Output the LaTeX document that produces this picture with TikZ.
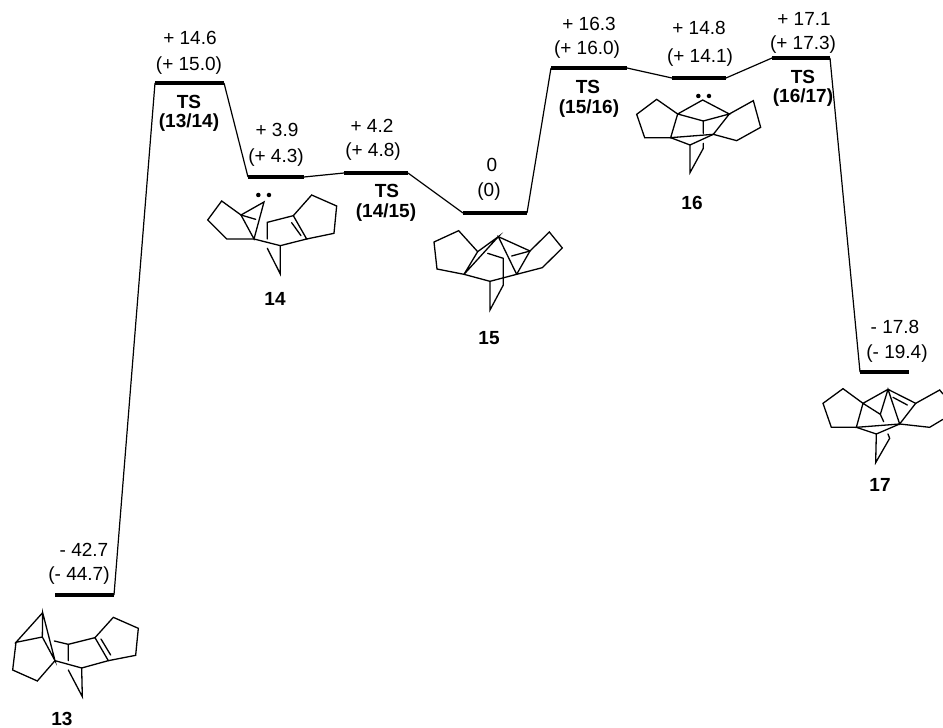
\documentclass[tikz,border=0pt]{standalone}
\usepackage{fontspec}
\setmainfont{Liberation Sans}
\tikzset{
  bar/.style={line width=4pt},
  link/.style={line width=1.2pt},
  bond/.style={line width=1.3pt,line join=miter,line cap=round},
  val/.style={inner sep=0pt,font=\fontsize{19}{22}\selectfont},
  ts/.style={inner sep=0pt,font=\fontsize{19}{22}\selectfont\bfseries},
  molname/.style={inner sep=0pt,font=\fontsize{19}{22}\selectfont\bfseries},
  mol/.style={x=0.3333pt,y=-0.3333pt},
  pair/.style={circle,fill=black,inner sep=0pt,minimum size=4.5pt}
}
\begin{document}
\begin{tikzpicture}[x=1pt,y=-1pt]
\useasboundingbox (0,0) rectangle (943,728);
% energy levels
\coordinate (L13a) at (55,595);  \coordinate (L13b) at (114,595);
\coordinate (Ta) at (155,83);    \coordinate (Tb) at (224,83);
\coordinate (L14a) at (248,177); \coordinate (L14b) at (304,177);
\coordinate (Ua) at (344,173);   \coordinate (Ub) at (408,173);
\coordinate (L15a) at (463,213); \coordinate (L15b) at (527,213);
\coordinate (Va) at (551,68);    \coordinate (Vb) at (627,68);
\coordinate (L16a) at (672,78);  \coordinate (L16b) at (726,78);
\coordinate (Wa) at (772,58);    \coordinate (Wb) at (830,58);
\coordinate (L17a) at (860,372); \coordinate (L17b) at (909,372);
\foreach \p/\q in {L13/L13,T/T,L14/L14,U/U,L15/L15,V/V,L16/L16,W/W,L17/L17}
  \draw[bar] (\p a) -- (\q b);
\draw[link] (L13b)--(Ta) (Tb)--(L14a) (L14b)--(Ua) (Ub)--(L15a) (L15b)--(Va) (Vb)--(L16a) (L16b)--(Wa) (Wb)--(L17a);
% labels
\node[val] (e13a) at (84,550) {- 42.7};  \node[val] (e13b) at (79,576) {(- 44.7)};
\node[val] (et1a) at (190,38) {+ 14.6};  \node[val] (et1b) at (189,66) {(+ 15.0)};
\node[ts] (t1a) at (189,102) {TS};       \node[ts] (t1b) at (189,123) {(13/14)};
\node[val] (e14a) at (277,130) {+ 3.9};  \node[val] (e14b) at (276,158) {(+ 4.3)};
\node[val] (et2a) at (372,126) {+ 4.2};  \node[val] (et2b) at (373,152) {(+ 4.8)};
\node[ts] (t2a) at (387,191) {TS};       \node[ts] (t2b) at (386,213) {(14/15)};
\node[val] (e15a) at (492,165) {0};      \node[val] (e15b) at (489,192) {(0)};
\node[val] (et3a) at (589,24) {+ 16.3};  \node[val] (et3b) at (587,50) {(+ 16.0)};
\node[ts] (t3a) at (588,87) {TS};        \node[ts] (t3b) at (589,109) {(15/16)};
\node[val] (e16a) at (699,28) {+ 14.8};  \node[val] (e16b) at (700,58) {(+ 14.1)};
\node[val] (et4a) at (804,19) {+ 17.1};  \node[val] (et4b) at (803,45) {(+ 17.3)};
\node[ts] (t4a) at (803,77) {TS};        \node[ts] (t4b) at (803,98) {(16/17)};
\node[val] (e17a) at (895,327) {- 17.8}; \node[val] (e17b) at (897,354) {(- 19.4)};
\node[molname] (n13) at (62,718.5) {13};
\node[molname] (n14) at (275,299) {14};
\node[molname] (n15) at (489,338) {15};
\node[molname] (n16) at (692,203) {16};
\node[molname] (n17) at (880,485) {17};
% molecule 13
\begin{scope}[mol,xshift=0pt,yshift=-590pt]
\draw[bond] (128,68)--(48,157)--(127,141)--(128,68)--(165,212)--(127,141);
\draw[bond] (48,157)--(38,240)--(112,273)--(165,212)--(245,234)--(325,212)--(285,143)--(205,163)--(163,153);
\draw[bond] (205,163)--(205,212) (205,240)--(247,320)--(245,234);
\draw[bond] (285,143)--(340,82)--(415,115)--(407,196)--(325,212) (303,147)--(332,195);
\end{scope}
% molecule 14
\begin{scope}[mol,xshift=190pt,yshift=-170pt]
\node[pair] (p14a) at (205,75) {}; \node[pair] (p14b) at (237,75) {};
\draw[bond] (222,96)--(153,135)--(192,207)--cycle;
\draw[bond] (153,135)--(95,93)--(53,150)--(110,207)--(192,207)--(271,227)--(350,207)--(310,137)--(232,157)--(232,207);
\draw[bond] (232,235)--(271,312)--(271,227) (153,135)--(197,148);
\draw[bond] (310,137)--(365,75)--(440,108)--(432,190)--(350,207) (305,158)--(333,197);
\end{scope}
% molecule 15
\begin{scope}[mol,xshift=420pt,yshift=-210pt]
\draw[bond] (235,80)--(173,125)--(132,193)--cycle;
\draw[bond] (173,125)--(116,62)--(42,96)--(51,177)--(132,193)--(210,214)--(290,193)--(330,123)--(235,80)--(290,193);
\draw[bond] (330,123)--(388,66)--(427,114)--(367,173)--(290,193);
\draw[bond] (210,214)--(210,300)--(250,225)--(250,145)--(203,130) (275,138)--(330,123);
\end{scope}
% molecule 16
\begin{scope}[mol,xshift=630pt,yshift=-80pt]
\node[pair] (p16a) at (205,48) {}; \node[pair] (p16b) at (237,48) {};
\draw[bond] (143,102)--(218,60)--(298,102)--(220,123)--(143,102)--(122,173)--(250,163)--(298,102);
\draw[bond] (122,173)--(180,195)--(250,163);
\draw[bond] (143,102)--(80,58)--(20,103)--(44,173)--(122,173);
\draw[bond] (298,102)--(370,62)--(392,142)--(320,182)--(250,163);
\draw[bond] (220,123)--(220,160) (220,190)--(220,205)--(180,278)--(180,195);
\end{scope}
% molecule 17
\begin{scope}[mol,xshift=803pt,yshift=-370pt]
\draw[bond] (180,100)--(255,58)--(338,100)--(290,162)--(255,58)--(232,133)--(180,100)--(160,172)--(290,162);
\draw[bond] (232,133)--(242,155) (270,82)--(313,105);
\draw[bond] (160,172)--(220,192)--(290,162);
\draw[bond] (180,100)--(120,56)--(60,100)--(85,172)--(160,172);
\draw[bond] (338,100)--(410,60)--(420,72) (420,148)--(380,172)--(290,162);
\draw[bond] (220,192)--(218,278)--(260,205)--(255,192);
\end{scope}
\end{tikzpicture}
\end{document}
